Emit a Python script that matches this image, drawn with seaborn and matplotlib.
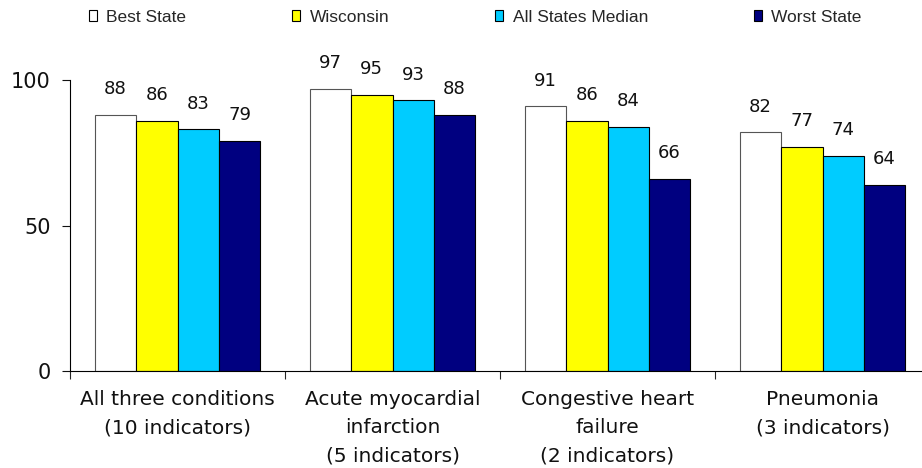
import pandas as pd
import numpy as np
import seaborn as sns
import matplotlib.pyplot as plt
from matplotlib.patches import Patch

# chart values
categories = ["All three conditions\n(10 indicators)",
              "Acute myocardial\ninfarction\n(5 indicators)",
              "Congestive heart\nfailure\n(2 indicators)",
              "Pneumonia\n(3 indicators)"]
series = ["Best State", "Wisconsin", "All States Median", "Worst State"]
best_state = [88, 97, 91, 82]
wisconsin = [86, 95, 86, 77]
states_median = [83, 93, 84, 74]
worst_state = [79, 88, 66, 64]
yticks = [0, 50, 100]

colors = ["#FFFFFF", "#FFFF00", "#00CCFF", "#000080"]

rows = []
for name, vals in zip(series, [best_state, wisconsin, states_median, worst_state]):
    for cat, v in zip(categories, vals):
        rows.append({"category": cat, "series": name, "value": v})
df = pd.DataFrame(rows)

sns.set_style("white")
plt.rcParams["font.family"] = ["DejaVu Sans"]

fig = plt.figure(figsize=(9.22, 4.68), dpi=100)
ax = fig.add_axes([70 / 922, 1 - 371 / 468, 860 / 922, 291 / 468])

sns.barplot(data=df, x="category", y="value", hue="series", order=categories,
            hue_order=series, palette=colors, width=0.77, saturation=1,
            edgecolor="black", linewidth=0.8, legend=False, ax=ax)

# grey edge on the white bars
for bar in ax.containers[0]:
    bar.set_edgecolor("#555555")

for cont in ax.containers:
    ax.bar_label(cont, fmt="%d", padding=12, fontsize=13, color="#111111")

ax.set_ylim(0, 100)
ax.set_xlim(-0.5, 3.5)
ax.set_yticks(yticks)
ax.tick_params(axis="y", direction="out", length=6, width=0.8, pad=8,
               labelsize=15, left=True, colors="#111111")
ax.set_xticks([-0.5, 0.5, 1.5, 2.5, 3.5])
ax.set_xticklabels([])
ax.tick_params(axis="x", which="major", direction="out", length=6, width=0.8, bottom=True)
ax.set_xticks(range(len(categories)), minor=True)
ax.set_xticklabels(categories, minor=True, fontsize=14.5, linespacing=1.6, color="#111111")
ax.tick_params(axis="x", which="minor", length=0, pad=14)
ax.set_xlabel("")
ax.set_ylabel("")

sns.despine(ax=ax)
for s in ["left", "bottom"]:
    ax.spines[s].set_color("black")
    ax.spines[s].set_linewidth(0.8)

handles = [Patch(facecolor=c, edgecolor="black", linewidth=0.8) for c in colors]
fig.legend(handles, series, loc="center left", bbox_to_anchor=(89 / 922, 1 - 17 / 468),
           ncol=4, frameon=False, handlelength=0.45, handleheight=0.6,
           handletextpad=0.55, columnspacing=6.1, borderpad=0, borderaxespad=0,
           prop={"family": "Liberation Sans", "size": 12.5})

fig.savefig("out.png", dpi=100)
